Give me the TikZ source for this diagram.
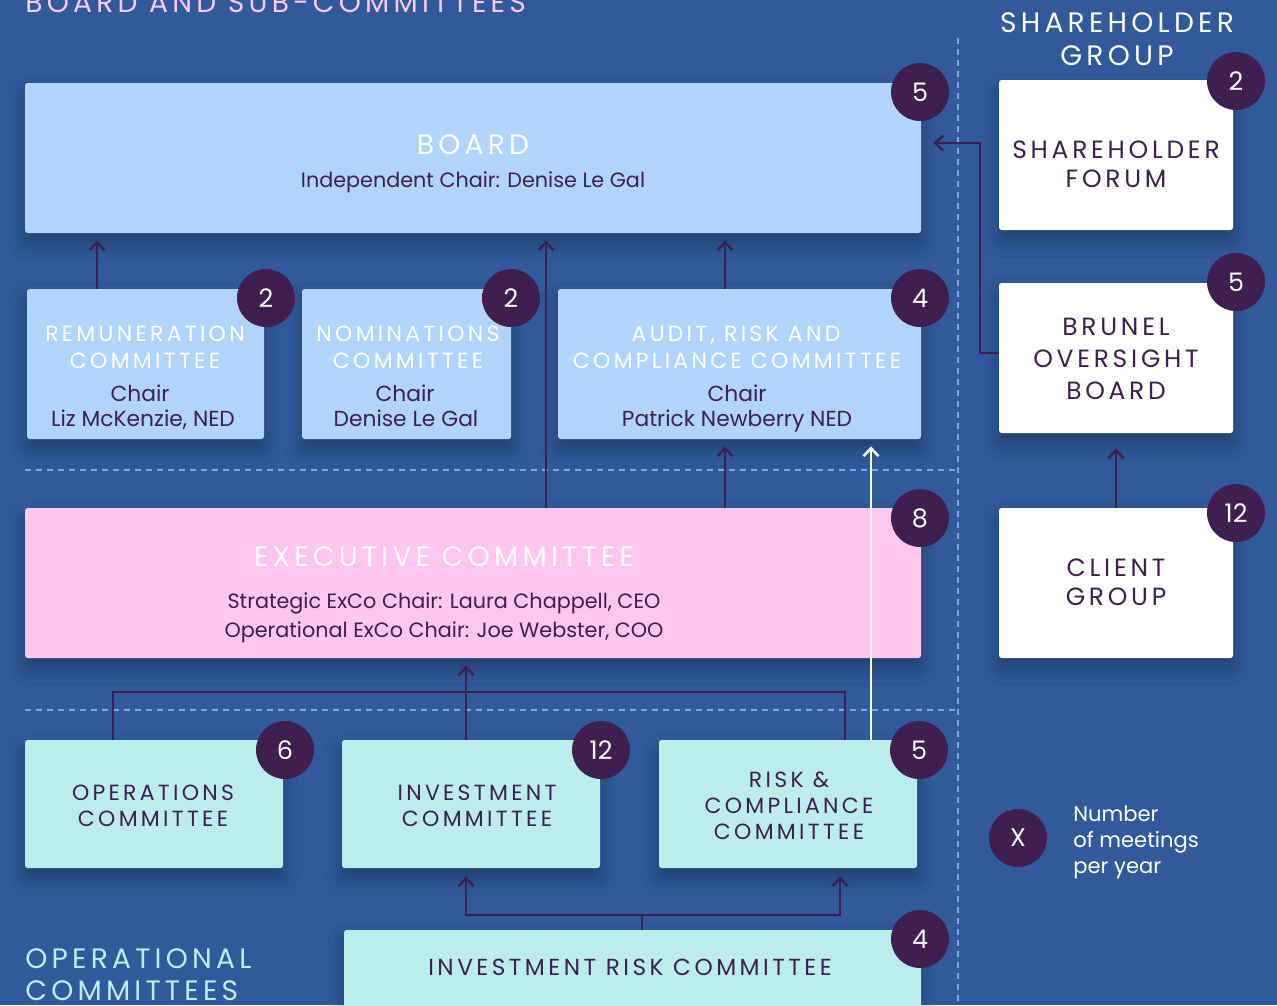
\documentclass[tikz,border=0pt]{standalone}
\usepackage{fontspec}
\setmainfont{Poppins}
\newfontfamily\capsfont[LetterSpace=15]{Poppins}
\usetikzlibrary{arrows.meta,calc,shadows.blur}

\newlength\px \setlength\px{0.02cm}
\newcommand\fsz[2]{\fontsize{#1}{#2}\selectfont}

\definecolor{bgblue}{HTML}{305A9C}
\definecolor{boardblue}{HTML}{B0D4FC}
\definecolor{execpink}{HTML}{FFC6EE}
\definecolor{opsmint}{HTML}{BBEEEA}
\definecolor{plum}{HTML}{3F1F4F}
\definecolor{dashblue}{HTML}{7EA6E0}

\tikzset{
  box/.style={rounded corners=1.5pt, inner sep=0pt, draw=none,
    blur shadow={shadow xshift=0pt, shadow yshift=-6pt, shadow blur radius=9pt, shadow opacity=30}},
  bluebox/.style={box, fill=boardblue},
  pinkbox/.style={box, fill=execpink},
  mintbox/.style={box, fill=opsmint},
  whitebox/.style={box, fill=white},
  badge/.style={circle, fill=plum, minimum size=1.16cm, inner sep=0pt, text=white, font=\fsz{14.5}{16}},
  bigcap/.style={anchor=base, inner sep=0pt, font=\capsfont\fsz{16}{18}},
  midcap/.style={anchor=base, inner sep=0pt, font=\capsfont\fsz{12.5}{14}},
  boxcap/.style={anchor=base, inner sep=0pt, text=plum, font=\capsfont\fsz{14.2}{16}},
  smallcap/.style={anchor=base, inner sep=0pt, text=plum, font=\capsfont\fsz{12.5}{14}},
  bodytext/.style={anchor=base, inner sep=0pt, text=plum, font=\fsz{11.8}{14}},
  chairtext/.style={bodytext, font=\fsz{12.4}{14}},
  arr/.style={draw=plum, line width=0.05cm, -{Straight Barb[length=0.16cm, width=0.3cm]}},
  lnk/.style={draw=plum, line width=0.05cm},
  sep/.style={draw=dashblue, line width=0.04cm, dash pattern=on 0.12cm off 0.1cm},
}

\begin{document}
\begin{tikzpicture}[x=0.02cm, y=-0.02cm]
\useasboundingbox (0,0) rectangle (1277,1005);
\clip (0,0) rectangle (1277,1005);
\fill[bgblue] (0,0) rectangle (1277,1005);

% separators
\draw[sep] (958,38) -- (958,1005);
\draw[sep] (25,470) -- (955,470);
\draw[sep] (25,710) -- (955,710);

% section headings
\node[bigcap, anchor=base west, text=execpink] (hBoard) at (25,12) {BOARD AND SUB-COMMITTEES};
\node[bigcap, text=white] (hShare1) at (1117,32) {SHAREHOLDER};
\node[bigcap, text=white] (hShare2) at (1117,65) {GROUP};
\node[bigcap, anchor=base west, text=opsmint] (hOps1) at (25,968) {OPERATIONAL};
\node[bigcap, anchor=base west, text=opsmint] (hOps2) at (25,1000) {COMMITTEES};

% boxes
\node[bluebox, minimum width=896*\px, minimum height=150*\px] (board) at (473,158) {};
\node[bluebox, minimum width=237*\px, minimum height=150*\px] (rem) at (145.5,364) {};
\node[bluebox, minimum width=209*\px, minimum height=150*\px] (nom) at (406.5,364) {};
\node[bluebox, minimum width=363*\px, minimum height=150*\px] (audit) at (739.5,364) {};
\node[pinkbox, minimum width=896*\px, minimum height=150*\px] (exec) at (473,583) {};
\node[mintbox, minimum width=258*\px, minimum height=128*\px] (ops) at (154,804) {};
\node[mintbox, minimum width=258*\px, minimum height=128*\px] (inv) at (471,804) {};
\node[mintbox, minimum width=258*\px, minimum height=128*\px] (rc) at (788,804) {};
\node[mintbox, minimum width=577*\px, minimum height=100*\px] (irc) at (632.5,980) {};
\node[whitebox, minimum width=234*\px, minimum height=150*\px] (sf) at (1116,155) {};
\node[whitebox, minimum width=234*\px, minimum height=150*\px] (bob) at (1116,358) {};
\node[whitebox, minimum width=234*\px, minimum height=150*\px] (cg) at (1116,583) {};

% box texts
\node[bigcap, text=white] (boardT) at (473,154) {BOARD};
\node[bodytext] (boardS) at (473,187) {Independent Chair: Denise Le Gal};

\node[midcap, text=white] (remT1) at (145,341) {REMUNERATION};
\node[midcap, text=white] (remT2) at (145,368) {COMMITTEE};
\node[chairtext] (remS1) at (140,401) {Chair};
\node[chairtext] (remS2) at (143,426) {Liz McKenzie, NED};

\node[midcap, text=white] (nomT1) at (408,341) {NOMINATIONS};
\node[midcap, text=white] (nomT2) at (408,368) {COMMITTEE};
\node[chairtext] (nomS1) at (405,401) {Chair};
\node[chairtext] (nomS2) at (406,426) {Denise Le Gal};

\node[midcap, text=white] (audT1) at (736,341) {AUDIT, RISK AND};
\node[midcap, text=white] (audT2) at (737,368) {COMPLIANCE COMMITTEE};
\node[chairtext] (audS1) at (737,401) {Chair};
\node[chairtext] (audS2) at (737,426) {Patrick Newberry NED};

\node[bigcap, text=white] (execT) at (444,566) {EXECUTIVE COMMITTEE};
\node[bodytext] (execS1) at (444,608) {Strategic ExCo Chair: Laura Chappell, CEO};
\node[bodytext] (execS2) at (444,637) {Operational ExCo Chair: Joe Webster, COO};

\node[smallcap] (opsT1) at (153,800) {OPERATIONS};
\node[smallcap] (opsT2) at (153,826) {COMMITTEE};
\node[smallcap] (invT1) at (477,800) {INVESTMENT};
\node[smallcap] (invT2) at (477,826) {COMMITTEE};
\node[smallcap] (rcT1) at (789,787) {RISK \&};
\node[smallcap] (rcT2) at (789,813) {COMPLIANCE};
\node[smallcap] (rcT3) at (789,839) {COMMITTEE};
\node[smallcap, font=\capsfont\fsz{13.2}{15}] (ircT) at (630,975) {INVESTMENT RISK COMMITTEE};

\node[boxcap] (sfT1) at (1116,158) {SHAREHOLDER};
\node[boxcap] (sfT2) at (1116,187) {FORUM};
\node[boxcap] (bobT1) at (1116,335) {BRUNEL};
\node[boxcap] (bobT2) at (1116,367) {OVERSIGHT};
\node[boxcap] (bobT3) at (1116,399) {BOARD};
\node[boxcap] (cgT1) at (1116,576) {CLIENT};
\node[boxcap] (cgT2) at (1116,605) {GROUP};

% connectors: board level
\coordinate (xRem) at (97,0);
\coordinate (xExec) at (546,0);
\coordinate (xAud) at (725,0);
\coordinate (xRC) at (871,0);
\draw[arr, shorten >=0.14cm] (rem.north -| xRem) -- (board.south -| xRem);
\draw[arr, shorten >=0.14cm] (exec.north -| xExec) -- (board.south -| xExec);
\draw[arr, shorten >=0.14cm] (audit.north -| xAud) -- (board.south -| xAud);
\draw[arr, shorten >=0.14cm] (exec.north -| xAud) -- (audit.south -| xAud);
\draw[arr, draw=white, shorten >=0.14cm] (rc.north -| xRC) -- (audit.south -| xRC);

% connectors: operational committees to executive
\coordinate (busL) at (113,692);
\coordinate (busR) at (845,692);
\coordinate (xInv) at (466,0);
\draw[lnk] (ops.north -| busL) -- (busL) -- (busR) -- (rc.north -| busR);
\draw[arr, shorten >=0.14cm] (inv.north -| xInv) -- (exec.south -| xInv);

% connectors: investment risk committee
\coordinate (ircJ) at (642,915);
\coordinate (ircL) at (466,915);
\coordinate (ircR) at (840,915);
\draw[lnk] (irc.north -| ircJ) -- (ircJ);
\draw[arr, shorten >=0.16cm] (ircJ) -- (ircL) -- (inv.south -| ircL);
\draw[arr, shorten >=0.16cm] (ircJ) -- (ircR) -- (rc.south -| ircR);

% connectors: shareholder group
\coordinate (bobL) at (980,353);
\coordinate (bobU) at (980,143);
\draw[arr, shorten >=0.24cm] (bob.west |- bobL) -- (bobL) -- (bobU) -- (board.east |- bobU);
\draw[arr, shorten >=0.3cm] (cg.north) -- (bob.south);

% meeting counts
\node[badge] (bBoard) at (920,92) {5};
\node[badge] (bRem) at (266,298) {2};
\node[badge] (bNom) at (511,298) {2};
\node[badge] (bAud) at (920,298) {4};
\node[badge] (bExec) at (920,518) {8};
\node[badge] (bOps) at (285,750) {6};
\node[badge] (bInv) at (601,750) {12};
\node[badge] (bRC) at (919,750) {5};
\node[badge] (bIRC) at (920,939) {4};
\node[badge] (bSF) at (1236,81) {2};
\node[badge] (bBOB) at (1236,282) {5};
\node[badge] (bCG) at (1236,513) {12};

% key
\node[badge] (key) at (1018,838) {X};
\node[anchor=base west, inner sep=0pt, text=white, align=left, font=\fsz{12}{14.7}] (keyT) at (1073,873) {Number\\of meetings\\per year};
\end{tikzpicture}
\end{document}
